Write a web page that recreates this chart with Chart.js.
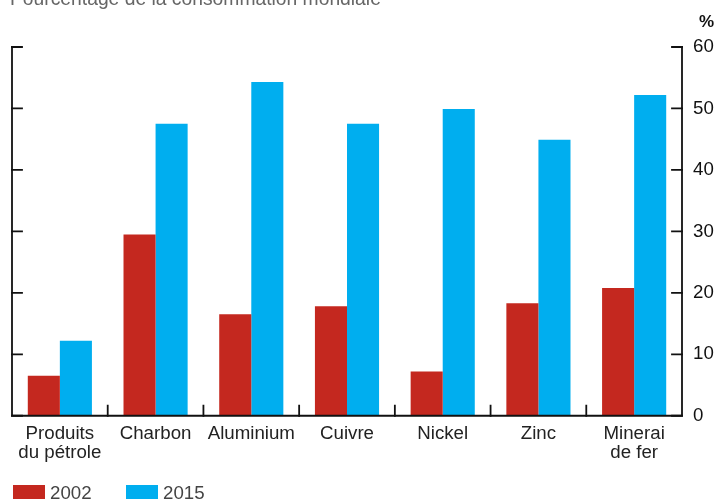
<!DOCTYPE html>
<html><head><meta charset="utf-8">
<script src="https://cdn.jsdelivr.net/npm/chart.js@4.4.0/dist/chart.umd.min.js"></script>
<style>html,body{margin:0;padding:0;background:#fff;}#wrap{width:715px;height:500px;position:relative;}</style>
</head><body><div id="wrap"><canvas id="c" width="715" height="500"></canvas></div>
<script>
const categories = [["Produits","du pétrole"],"Charbon","Aluminium","Cuivre","Nickel","Zinc",["Minerai","de fer"]];
const values2002 = [6.5, 29.5, 16.5, 17.8, 7.2, 18.3, 20.8];
const values2015 = [12.2, 47.5, 54.3, 47.5, 49.9, 44.9, 52.2];
const seriesNames = ["2002","2015"];
const yTicks = [0,10,20,30,40,50,60];
const titleText = "Pourcentage de la consommation mondiale";
const unitText = "%";

const RED = "#C4281F", BLUE = "#00AEEF";
const SANS = "'Liberation Sans',Arial,sans-serif";
const FS = 18.7;

const decor = {
  id: 'decor',
  afterDraw(chart) {
    const ctx = chart.ctx, a = chart.chartArea, y = chart.scales.y, x = chart.scales.x;
    ctx.save();
    ctx.strokeStyle = '#111'; ctx.lineWidth = 1.8; ctx.lineCap = 'square';
    ctx.beginPath();
    ctx.moveTo(a.left, a.top); ctx.lineTo(a.left, a.bottom); ctx.lineTo(a.right, a.bottom); ctx.lineTo(a.right, a.top);
    ctx.stroke();
    ctx.beginPath();
    yTicks.forEach(v => {
      const py = y.getPixelForValue(v);
      ctx.moveTo(a.left, py); ctx.lineTo(a.left + 10, py);
      ctx.moveTo(a.right, py); ctx.lineTo(a.right - 10, py);
    });
    for (let i = 1; i < categories.length; i++) {
      const px = (x.getPixelForValue(i - 1) + x.getPixelForValue(i)) / 2;
      ctx.moveTo(px, a.bottom); ctx.lineTo(px, a.bottom - 10);
    }
    ctx.stroke();
    ctx.fillStyle = '#666'; ctx.font = "19.3px " + SANS; ctx.textBaseline = 'alphabetic'; ctx.textAlign = 'left';
    ctx.fillText(titleText, 10, 5);
    ctx.fillStyle = '#111'; ctx.font = "bold 17px " + SANS; ctx.textAlign = 'right';
    ctx.fillText(unitText, 714, 27);
    ctx.textAlign = 'left'; ctx.font = FS + "px " + SANS;
    const lx = [13, 126];
    chart.data.datasets.forEach((ds, i) => {
      ctx.fillStyle = ds.backgroundColor;
      ctx.fillRect(lx[i], 485, 32, 14);
      ctx.fillStyle = '#444';
      ctx.fillText(ds.label, lx[i] + 37, 499);
    });
    ctx.restore();
  }
};

new Chart(document.getElementById('c'), {
  type: 'bar',
  data: {
    labels: categories,
    datasets: [
      {label: seriesNames[0], data: values2002, backgroundColor: RED, categoryPercentage: 0.67, barPercentage: 1.0},
      {label: seriesNames[1], data: values2015, backgroundColor: BLUE, categoryPercentage: 0.67, barPercentage: 1.0}
    ]
  },
  options: {
    responsive: false, animation: false, devicePixelRatio: 1,
    layout: {padding: {top: 47, left: 12, right: 1, bottom: 29}},
    plugins: {legend: {display: false}, tooltip: {enabled: false}},
    scales: {
      x: {
        grid: {display: false, drawTicks: false}, border: {display: false},
        ticks: {color: '#222', font: {family: SANS, size: FS, lineHeight: 1.05}, padding: 8, maxRotation: 0, autoSkip: false}
      },
      y: {
        position: 'right', min: 0, max: 60,
        afterBuildTicks: s => { s.ticks = yTicks.map(v => ({value: v})); },
        afterFit: s => { s.width = 32; },
        grid: {display: false, drawTicks: false}, border: {display: false},
        ticks: {color: '#111', font: {family: SANS, size: FS}, padding: 11}
      }
    }
  },
  plugins: [decor]
});
</script></body></html>
